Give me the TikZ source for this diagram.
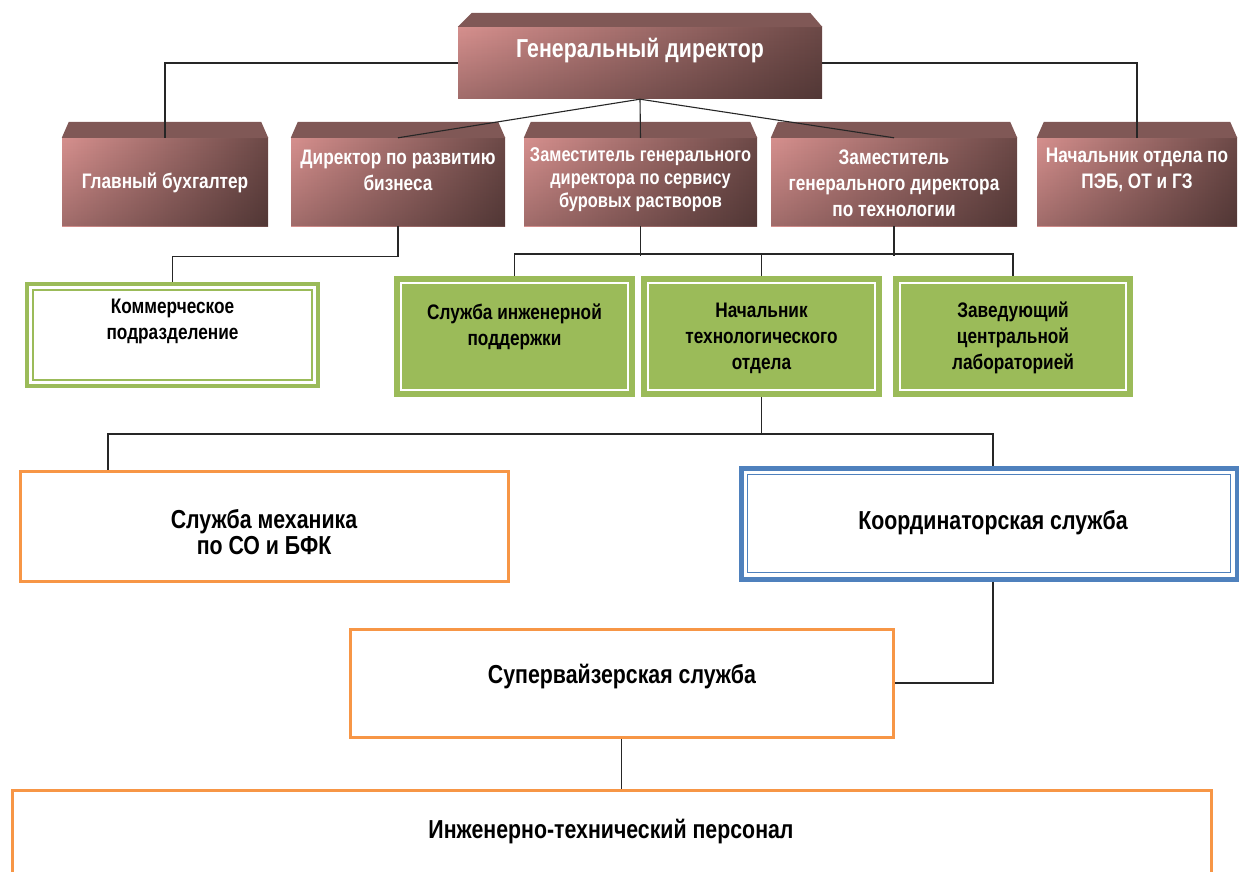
\documentclass[tikz,border=0pt]{standalone}
\usepackage{fontspec}
\newfontfamily\narrowfont{Liberation Sans}[FakeStretch=0.82]
\usetikzlibrary{fadings}

\definecolor{bevlight}{RGB}{214,144,142}
\definecolor{bevdark}{RGB}{108,73,71}
\definecolor{bevtop}{RGB}{128,88,86}
\definecolor{grn}{RGB}{155,187,89}
\definecolor{orng}{RGB}{247,150,70}
\definecolor{blu}{RGB}{79,129,189}

\tikzset{
  front/.style={shape=rectangle, inner sep=0, left color=bevlight, right color=bevdark,
    postaction={fill=black, opacity=0.25, path fading=north}},
  wtext/.style={align=center, text=white, inner sep=0},
  btext/.style={align=center, text=black, inner sep=0},
  greenbox/.style={draw=grn, fill=grn, line width=4, inner sep=0,
    path picture={\draw[white, line width=1.5] ([xshift=5pt,yshift=5pt]path picture bounding box.south west) rectangle ([xshift=-5pt,yshift=-5pt]path picture bounding box.north east);}},
  greenwhite/.style={draw=grn, fill=white, line width=4, inner sep=0,
    path picture={\draw[grn, line width=1.5] ([xshift=6pt,yshift=6pt]path picture bounding box.south west) rectangle ([xshift=-6pt,yshift=-6pt]path picture bounding box.north east);}},
  orangebox/.style={draw=orng, fill=white, line width=3, inner sep=0},
  bluebox/.style={draw=blu, fill=white, line width=5, inner sep=0,
    path picture={\draw[blu, line width=1.5] ([xshift=6.5pt,yshift=6.5pt]path picture bounding box.south west) rectangle ([xshift=-6.5pt,yshift=-6.5pt]path picture bounding box.north east);}},
  link/.style={draw=black!85, line width=1.1}
}

\newcommand\topfont{\narrowfont\bfseries\fontsize{26}{28}\selectfont}
\newcommand\bevfont{\narrowfont\bfseries\fontsize{21}{26}\selectfont}
\newcommand\grnfont{\narrowfont\bfseries\fontsize{21}{26}\selectfont}
\newcommand\bigfont{\narrowfont\bfseries\fontsize{26}{26}\selectfont}

\begin{document}
\begin{tikzpicture}[x=1pt,y=-1pt]
        \useasboundingbox (0,0) rectangle (1239,872);

        % Top level
        \node[front, minimum width=364, minimum height=72] (gd) at (640,63) {};
        \fill[bevtop] (gd.north west) -- ++(14,-14) -- ([xshift=-12pt,yshift=14pt]gd.north east) -- (gd.north east) -- cycle;

        % Second level
        \foreach \n/\x/\w in {gb/165/206, drb/398/214, zsr/640.5/233, ztech/894/246, npeb/1137/200}{
          \node[front, minimum width=\w, minimum height=88] (\n) at (\x,182) {};
          \fill[bevtop] (\n.north west) -- ++(7,-16) -- ([xshift=-7pt,yshift=16pt]\n.north east) -- (\n.north east) -- cycle;
        }

        % Green level
        \node[greenwhite, minimum width=291, minimum height=102] (kom) at (172.5,335) {};
        \node[greenbox, minimum width=237, minimum height=117] (sip) at (514.5,336.5) {};
        \node[greenbox, minimum width=237, minimum height=117] (ntech) at (761.5,336.5) {};
        \node[greenbox, minimum width=236, minimum height=117] (zlab) at (1013,336.5) {};

        % Lower level
        \node[orangebox, minimum width=488, minimum height=110] (smsh) at (264,526) {};
        \node[bluebox, minimum width=496, minimum height=111] (coord) at (989,523.5) {};
        \node[orangebox, minimum width=543, minimum height=108] (sup) at (621.5,683) {};
        \node[orangebox, minimum width=1199, minimum height=90] (itp) at (611.5,835) {};

        % Texts
        \node[wtext, font=\topfont] (gdt) at (640,51) {Генеральный директор};
        \node[wtext, font=\bevfont] (gbt) at (165,183) {Главный бухгалтер};
        \node[wtext, font=\bevfont] (drbt) at (398,170) {Директор по развитию\\бизнеса};
        \node[wtext, font=\narrowfont\bfseries\fontsize{20}{23}\selectfont] (zsrt) at (640.5,180) {Заместитель генерального\\директора по сервису\\буровых растворов};
        \node[wtext, font=\bevfont] (ztecht) at (894,183) {Заместитель\\генерального директора\\по технологии};
        \node[wtext, font=\bevfont] (npebt) at (1137,170) {Начальник отдела по\\ПЭБ, ОТ и ГЗ};
        \node[btext, font=\grnfont] (komt) at (172.5,321) {Коммерческое\\подразделение};
        \node[btext, font=\grnfont] (sipt) at (514.5,327) {Служба инженерной\\поддержки};
        \node[btext, font=\grnfont] (ntecht) at (761.5,338) {Начальник\\технологического\\отдела};
        \node[btext, font=\grnfont] (zlabt) at (1013,338) {Заведующий\\центральной\\лабораторией};
        \node[btext, font=\bigfont] (smsht) at (264,532) {Служба механика\\по СО и БФК};
        \node[btext, font=\bigfont] (coordt) at (993,523) {Координаторская служба};
        \node[btext, font=\bigfont] (supt) at (622,677) {Супервайзерская служба};
        \node[btext, font=\bigfont] (itpt) at (611,832) {Инженерно-технический персонал};

        % Links
        \draw[link] (gd.west) -| (gb.north);
        \draw[link] (gd.east) -| (npeb.north);
        \draw[link] (gd.south) -- (drb.north);
        \draw[link] (gd.south) -- (zsr.north);
        \draw[link] (gd.south) -- (ztech.north);
        \draw[link] (drb.south) -- ++(0,30) -| (kom.north);
        \draw[link] (zsr.south) -- ++(0,30);
        \draw[link] (ztech.south) -- ++(0,30);
        \draw[link] (sip.north) -- ++(0,-22) -| (zlab.north);
        \draw[link] (ntech.north) -- ++(0,-22);
        \coordinate (j1) at ([yshift=-37pt]ntech.south);
        \draw[link] (ntech.south) -- (j1);
        \draw[link] ([xshift=-156pt]smsh.north) |- (j1) -| ([xshift=4pt]coord.north);
        \draw[link] ([xshift=4pt]coord.south) |- (sup.east);
        \draw[link] (sup.south) -- (sup.south |- itp.north);

      \end{tikzpicture}
\end{document}
